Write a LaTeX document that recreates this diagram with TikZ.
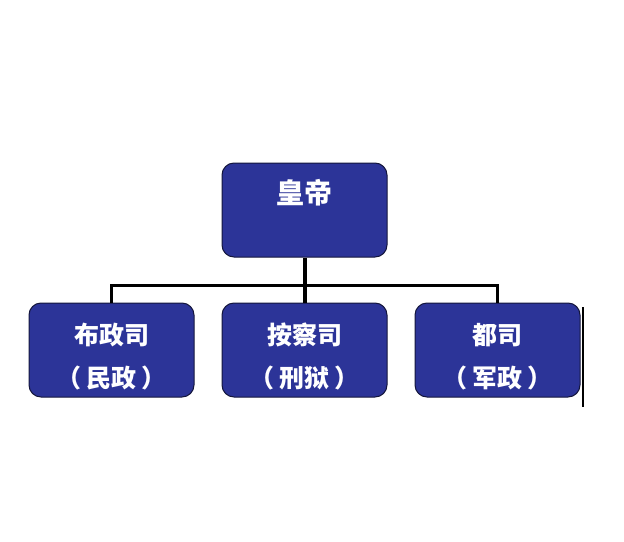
\documentclass[tikz,border=0pt]{standalone}
\usepackage{fontspec}
\newfontfamily\cjk{Noto Sans CJK SC}
\usepackage{tikz}
\usepackage{xcolor}
\definecolor{boxblue}{RGB}{44,52,152}
\definecolor{boxedge}{RGB}{20,22,60}
\newcommand{\paren}[1]{（\hspace{5pt}#1\hspace{5pt}）}
\tikzset{
  office/.style={draw=boxedge,line width=1pt,fill=boxblue,rounded corners=12pt,
    minimum width=165pt,minimum height=94pt,inner sep=0pt},
  officetext/.style={align=center,inner sep=0pt,text=white,
    font=\cjk\bfseries\fontsize{25}{43}\selectfont},
  link/.style={line width=3pt},
}

\begin{document}
\begin{tikzpicture}[x=1pt,y=-1pt]
	  \useasboundingbox (0,0) rectangle (624,541);
	  % boxes
	  \node[office] (huangdi) at (304.5,210) {};
	  \node[office] (buzhengsi) at (111.5,350) {};
	  \node[office] (anchasi) at (304.5,350) {};
	  \node[office] (dusi) at (497.5,350) {};
	  % texts
	  \node[officetext,font=\cjk\bfseries\fontsize{28}{43}\selectfont] (huangdi text) at (304.5,193) {皇帝};
	  \node[officetext] (buzhengsi text) at (111.5,356.5) {布政司\\\paren{民政}};
	  \node[officetext] (anchasi text) at (304.5,356.5) {按察司\\\paren{刑狱}};
	  \node[officetext] (dusi text) at (497.5,356.5) {都司\\\paren{军政}};
	  % lines
	  \coordinate (fork) at (304.5,285);
	  \draw[line width=4pt] (huangdi.south) -- (anchasi.north);
	  \draw[link] (buzhengsi.north) |- (fork) -| (dusi.north);
	  \coordinate (edge top) at (583,307);
	  \coordinate (edge bottom) at (583,407);
	  \draw[line width=2pt] (edge top) -- (edge bottom);
	\end{tikzpicture}
\end{document}
